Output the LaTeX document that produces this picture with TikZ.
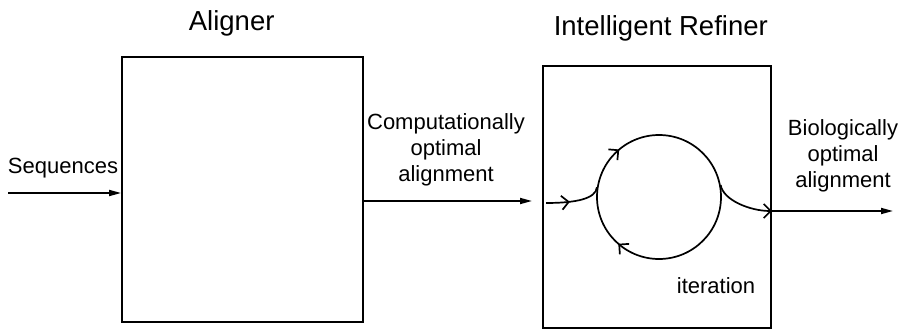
\documentclass[tikz,border=0pt]{standalone}
\usepackage{fontspec}
\setmainfont{Liberation Sans}
\usetikzlibrary{arrows.meta,decorations.markings}
\begin{document}
\begin{tikzpicture}[x=1pt,y=1pt,
  box/.style={draw, line width=1.8pt, inner sep=0pt},
  title/.style={font=\fontsize{27.5}{33}\selectfont, inner sep=0pt, anchor=base},
  lbl/.style={font=\fontsize{22}{26}\selectfont, inner sep=0pt, align=center},
  conn/.style={line width=1.7pt},
  solidtip/.style={-{Triangle[length=12pt,width=6pt]}},
  barbtip/.style={-{Straight Barb[length=7pt,width=14pt,line width=1.7pt]}},
  midbarb/.style={postaction={decorate}, decoration={markings,
    mark=at position #1 with {\arrow{Straight Barb[length=7pt,width=14pt,line width=1.7pt]}}}}
]
\useasboundingbox (0,0) rectangle (904,330);
% boxes
\node[box, minimum width=241pt, minimum height=265pt] (aligner) at (242.5,140.5) {};
\node[box, minimum width=228pt, minimum height=262pt] (refiner) at (657,133) {};
\node[draw, circle, conn, minimum size=124pt, inner sep=0pt] (loop) at (659,133) {};
% arrowheads on the loop (clockwise)
\path[decoration={markings,
    mark=at position 0.139 with {\arrow[line width=1.7pt]{Straight Barb[length=7pt,width=14pt]}},
    mark=at position 0.864 with {\arrow[line width=1.7pt]{Straight Barb[length=7pt,width=14pt]}}},
    decorate]
  ([shift={(180:62)}]loop.center) arc[start angle=180, end angle=-180, radius=62pt];
% texts
\node[title] (t1) at (231.7,299) {Aligner};
\node[title] (t2) at (660.8,294) {Intelligent Refiner};
\node[lbl, anchor=base] (seq) at (63,157) {Sequences};
\node[lbl] (comp) at (446,179.7) {Computationally\\optimal\\alignment};
\node[lbl] (bio) at (843,173.7) {Biologically\\optimal\\alignment};
\node[lbl, anchor=base] (iter) at (716,37) {iteration};
% connectors
\coordinate (seqin) at (8,137);
\draw[conn, solidtip] (seqin) -- (seqin -| aligner.west);
\coordinate (midend) at (532,129);
\draw[conn, solidtip] (midend -| aligner.east) -- (midend);
\coordinate (rin) at (546,127);
\draw[conn, midbarb=0.42] (rin) .. controls (575,127) and (596,131) .. (loop.171);
\coordinate (outy) at (893,119);
\draw[conn, barbtip] (loop.11) .. controls (723,130) and (750,119) .. (outy -| refiner.east);
\draw[conn, solidtip] (outy -| refiner.east) -- (outy);
\end{tikzpicture}
\end{document}
